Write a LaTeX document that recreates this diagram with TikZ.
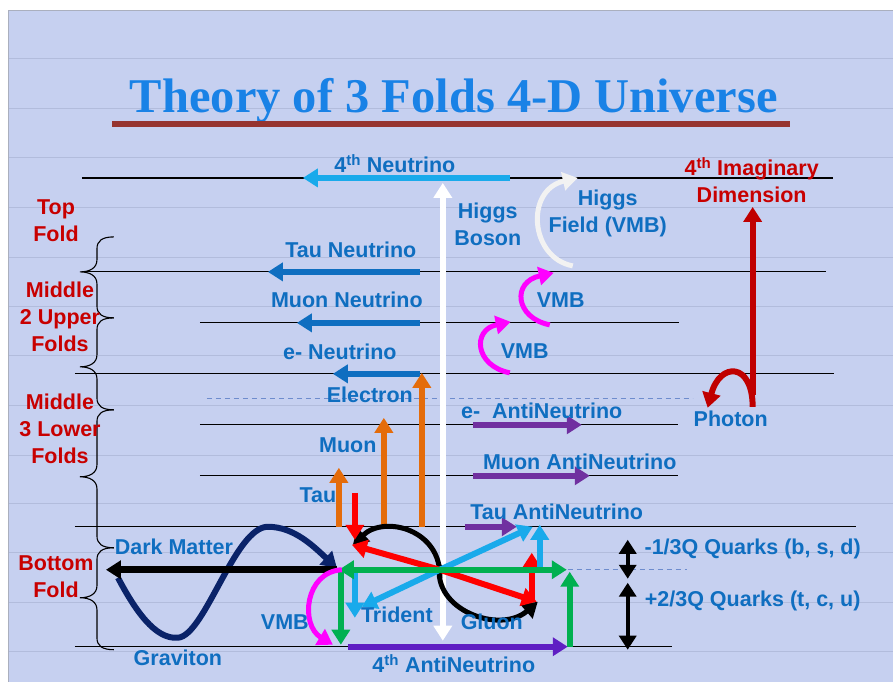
\documentclass[tikz,border=0pt]{standalone}
\usepackage{fontspec}
\setmainfont{Liberation Sans}
\newfontfamily\titlefont{Liberation Serif}
\usetikzlibrary{arrows.meta}
\definecolor{bgc}{RGB}{198,208,240}
\definecolor{rulec}{RGB}{178,188,220}
\definecolor{edgec}{RGB}{170,175,190}
\definecolor{txtblue}{RGB}{15,110,192}
\definecolor{txtred}{RGB}{200,0,0}
\definecolor{titleblue}{RGB}{25,130,230}
\definecolor{barred}{RGB}{150,52,48}
\definecolor{skyb}{RGB}{25,170,235}
\definecolor{nublue}{RGB}{15,110,192}
\definecolor{orng}{RGB}{228,108,10}
\definecolor{purp}{RGB}{112,48,160}
\definecolor{violetb}{RGB}{95,30,195}
\definecolor{grn}{RGB}{0,176,80}
\definecolor{navyc}{RGB}{10,35,105}
\definecolor{magc}{RGB}{255,0,255}
\definecolor{phred}{RGB}{192,0,0}
\definecolor{offw}{RGB}{242,242,242}
\definecolor{dashc}{RGB}{110,140,205}
\newcommand\foldbrace[3]{%
  \draw[bracec] (114,#1) .. controls (102,#1) and (97,#1+4) .. (97,#1+12)
    -- (97,#2-12) .. controls (97,#2-4) and (90,#2) .. (80,#2)
    .. controls (90,#2) and (97,#2+4) .. (97,#2+12)
    -- (97,#3-12) .. controls (97,#3-4) and (102,#3) .. (114,#3);}
\begin{document}
\begin{tikzpicture}[x=1pt,y=-1pt,
  lbl/.style={text=txtblue,font=\fontsize{21.5}{27}\selectfont\bfseries,inner sep=0pt,anchor=base},
  lblm/.style={text=txtblue,font=\fontsize{21.5}{27}\selectfont\bfseries,inner sep=0pt,align=center,anchor=north},
  rlbl/.style={text=txtred,font=\fontsize{21.5}{27}\selectfont\bfseries,inner sep=0pt,align=center,anchor=north},
  foldline/.style={black,line width=1.2pt},
  rule/.style={rulec,line width=0.6pt},
  dashline/.style={dashc,line width=1pt,dash pattern=on 5pt off 4pt},
  bracec/.style={black,line width=1.1pt},
  fat/.style={line width=6pt,-{Triangle[width=18pt,length=15pt]}},
  fatboth/.style={line width=6pt,{Triangle[width=18pt,length=15pt]}-{Triangle[width=18pt,length=15pt]}},
  thinboth/.style={line width=4pt,{Triangle[width=17pt,length=14pt]}-{Triangle[width=17pt,length=14pt]}},
]
% background
\fill[white] (0,0) rectangle (893,682);
\fill[bgc] (8,10) rectangle (893,682);
\draw[edgec,line width=0.8pt] (8,682) -- (8,10) -- (893,10);
\useasboundingbox (0,0) rectangle (893,682);
\foreach \yy in {58,108,157,207,257,306,355,405,455,504,553,603,652}
  \draw[rule] (9,\yy) -- (893,\yy);

% title
\node[text=titleblue,font=\titlefont\fontsize{48.5}{52}\selectfont\bfseries,inner sep=0pt,anchor=base]
  (title) at (454,113) {Theory of 3 Folds 4-D Universe};
\fill[barred] (112,121) rectangle (790,127);

% fold lines
\draw[foldline] (82,178) -- (833,178);
\draw[foldline] (82,272) -- (826,272);
\draw[foldline] (200,323) -- (679,323);
\draw[foldline] (75,374) -- (834,374);
\draw[foldline] (200,425) -- (678,425);
\draw[foldline] (200,476) -- (678,476);
\draw[foldline] (75,527) -- (856,527);
\draw[foldline] (75,647) -- (672,647);
\draw[dashline] (207,399) -- (693,399);
\draw[dashline] (568,570) -- (687,570);

% braces
\foldbrace{237}{272}{318}
\foldbrace{318}{367}{410}
\foldbrace{410}{477}{548}
\foldbrace{548}{598}{650}

% coordinates
\coordinate (n4s) at (510,178);   \coordinate (n4e) at (303,178);
\coordinate (hbb) at (443,641);   \coordinate (hbt) at (443,183);
\coordinate (hfs) at (573,266);   \coordinate (hfe) at (578,178);
\coordinate (ntaus) at (420,272); \coordinate (ntaue) at (268,272);
\coordinate (nmus) at (420,323);  \coordinate (nmue) at (297,323);
\coordinate (nes) at (420,374);   \coordinate (nee) at (333,374);
\coordinate (v1s) at (550,325);   \coordinate (v1e) at (554,273);
\coordinate (v2s) at (510,373);   \coordinate (v2e) at (511,322);
\coordinate (elb) at (422,527);   \coordinate (elt) at (422,373);
\coordinate (mub) at (384,527);   \coordinate (mut) at (384,418);
\coordinate (tab) at (339,527);   \coordinate (tat) at (339,468);
\coordinate (aes) at (473,425);   \coordinate (aee) at (582,425);
\coordinate (ams) at (473,476);   \coordinate (ame) at (590,476);
\coordinate (ats) at (465,527);   \coordinate (ate) at (517,527);
\coordinate (phb) at (753,395);   \coordinate (pht) at (753,207);
\coordinate (phs) at (753,407);   \coordinate (phe) at (708,408);
\coordinate (O) at (440,570);
\coordinate (gl) at (339,570);    \coordinate (gr) at (567,570);
\coordinate (gdt) at (341,570);   \coordinate (gdb) at (341,645);
\coordinate (gub) at (570,647);   \coordinate (gut) at (570,572);
\coordinate (rul) at (352,545);   \coordinate (rdt) at (355,493);
\coordinate (rdb) at (355,540);   \coordinate (rlr) at (537,602);
\coordinate (rub) at (532,600);   \coordinate (rut) at (532,553);
\coordinate (bll) at (362,607);   \coordinate (bdt) at (355,572);
\coordinate (bdb) at (355,618);   \coordinate (bur) at (533,527);
\coordinate (bub) at (540,572);   \coordinate (but) at (540,525);
\coordinate (ku1) at (440,578);   \coordinate (ku2) at (353,545);
\coordinate (kl1) at (440,565);   \coordinate (kl2) at (538,602);
\coordinate (gv0) at (118,578);   \coordinate (gv1) at (178,638);
\coordinate (gv2) at (268,527);   \coordinate (gv3) at (337,568);
\coordinate (dms) at (337,570);   \coordinate (dme) at (106,570);
\coordinate (v3s) at (342,570);   \coordinate (v3e) at (333,645);
\coordinate (a4s) at (348,647);   \coordinate (a4e) at (568,647);
\coordinate (q1t) at (628,540);   \coordinate (q1b) at (628,579);
\coordinate (q2t) at (628,583);   \coordinate (q2b) at (628,650);

% top part arrows
\draw[fat,skyb] (n4s) -- (n4e);
\draw[fatboth,white] (hbb) -- (hbt);
\draw[fat,offw,line width=5pt] (hfs) .. controls (530,258) and (525,190) .. (hfe);
\draw[fat,nublue] (ntaus) -- (ntaue);
\draw[fat,nublue] (nmus) -- (nmue);
\draw[fat,nublue] (nes) -- (nee);
\draw[fat,magc,line width=5pt] (v1s) .. controls (515,318) and (512,282) .. (v1e);
\draw[fat,magc,line width=5pt] (v2s) .. controls (475,366) and (472,330) .. (v2e);
\draw[fat,orng] (elb) -- (elt);
\draw[fat,orng] (mub) -- (mut);
\draw[fat,orng] (tab) -- (tat);
\draw[fat,purp] (aes) -- (aee);
\draw[fat,purp] (ams) -- (ame);
\draw[fat,purp] (ats) -- (ate);
\draw[fat,phred] (phb) -- (pht);
\draw[fat,phred] (phs) .. controls (753,362) and (720,362) .. (phe);

% bottom fold
\draw[fat,navyc] (gv0) .. controls (135,610) and (155,640) .. (gv1)
  .. controls (205,636) and (235,527) .. (gv2)
  .. controls (295,527) and (315,548) .. (gv3);
\draw[fat,black,line width=7pt] (dms) -- (dme);
\draw[fat,black,line width=5pt] (ku1) .. controls (442,530) and (385,515) .. (ku2);
\draw[fat,black,line width=5pt] (kl1) .. controls (432,610) and (500,635) .. (kl2);
\draw[fat,red] (O) -- (rul);
\draw[fat,red] (rdt) -- (rdb);
\draw[fat,red] (O) -- (rlr);
\draw[fat,red] (rub) -- (rut);
\draw[fat,skyb] (O) -- (bll);
\draw[fat,skyb] (bdt) -- (bdb);
\draw[fat,skyb] (O) -- (bur);
\draw[fat,skyb] (bub) -- (but);
\draw[fat,grn] (O) -- (gl);
\draw[fat,grn] (O) -- (gr);
\draw[fat,grn] (gdt) -- (gdb);
\draw[fat,grn] (gub) -- (gut);
\draw[fat,magc,line width=5pt] (v3s) .. controls (305,572) and (300,625) .. (v3e);
\draw[fat,violetb] (a4s) -- (a4e);
\draw[thinboth,black] (q1t) -- (q1b);
\draw[thinboth,black] (q2t) -- (q2b);

% red labels
\node[rlbl] (topfold) at (56,200) {Top\\Fold};
\node[rlbl] (mid2) at (60,282) {Middle\\2 Upper\\Folds};
\node[rlbl] (mid3) at (60,394) {Middle\\3 Lower\\Folds};
\node[rlbl] (botfold) at (56,556) {Bottom\\Fold};
\node[rlbl] (imag) at (752,157) {4\textsuperscript{th} Imaginary\\Dimension};

% blue labels
\node[lbl] (l4nu) at (395,173) {4\textsuperscript{th} Neutrino};
\node[lblm] (lhb) at (488,203) {Higgs\\Boson};
\node[lblm] (lhf) at (608,190) {Higgs\\Field (VMB)};
\node[lbl] (ltaunu) at (351,258) {Tau Neutrino};
\node[lbl] (lmunu) at (347,308) {Muon Neutrino};
\node[lbl] (lenu) at (340,360) {e- Neutrino};
\node[lbl] (lvmb1) at (561,308) {VMB};
\node[lbl] (lvmb2) at (525,359) {VMB};
\node[lbl] (lphot) at (731,427) {Photon};
\node[lbl] (lelec) at (370,403) {Electron};
\node[lbl] (lmuon) at (348,453) {Muon};
\node[lbl] (ltau) at (318,503) {Tau};
\node[lbl] (leanti) at (542,419) {e-~ AntiNeutrino};
\node[lbl] (lmuanti) at (580,470) {Muon AntiNeutrino};
\node[lbl] (ltauanti) at (557,520) {Tau AntiNeutrino};
\node[lbl] (ldm) at (174,555) {Dark Matter};
\node[lbl] (lgrav) at (178,666) {Graviton};
\node[lbl] (lvmb3) at (285,630) {VMB};
\node[lbl] (ltrid) at (397,623) {Trident};
\node[lbl] (lgluon) at (492,630) {Gluon};
\node[lbl] (l4anti) at (454,673) {4\textsuperscript{th} AntiNeutrino};
\node[lbl] (lq1) at (753,555) {-1/3Q Quarks (b, s, d)};
\node[lbl] (lq2) at (753,607) {+2/3Q Quarks (t, c, u)};
\end{tikzpicture}
\end{document}
